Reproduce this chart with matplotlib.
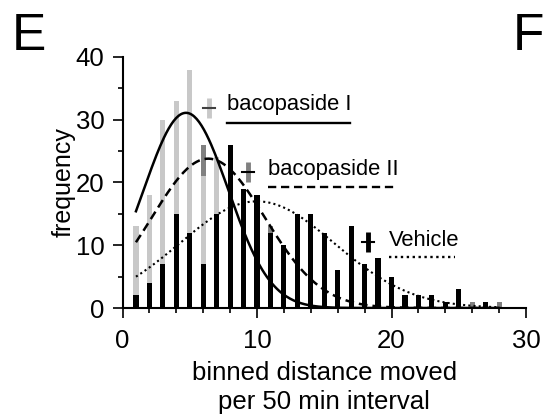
import matplotlib
matplotlib.use("Agg")
import numpy as np
import matplotlib.pyplot as plt
from matplotlib.ticker import MultipleLocator

plt.rcParams['font.family'] = ['Liberation Sans', 'DejaVu Sans']

# binned distance (bins 1..30)
bins = list(range(1, 31))

# frequencies (hidden parts estimated)
bacopaside_1 = [13, 18, 30, 33, 38, 21, 24, 14, 10, 6, 4, 2, 1, 1, 0,
                0, 0, 0, 0, 0, 0, 0, 0, 0, 0, 0, 0, 0, 0, 0]
bacopaside_2 = [8, 14, 18, 20, 20, 26, 22, 20, 17, 15, 13, 8, 6, 4, 3,
                2, 2, 1, 1, 1, 0, 0, 0, 0, 0, 1, 0, 1, 0, 0]
vehicle = [2, 4, 7, 15, 12, 7, 15, 26, 19, 18, 12, 10, 15, 15, 12,
           6, 13, 7, 8, 5, 2, 2, 2, 1, 3, 0, 1, 0, 0, 0]

# gaussian fits (peak height, centre, width)
fit_1 = (31.1, 4.72, 3.14)
fit_2 = (23.8, 6.38, 4.2)
fit_v = (17.0, 10.0, 5.75)

light = '#c8c8c8'
dark = '#808080'
dash = (0, (3.5, 2))
dot = (0, (1, 1.5))

fig = plt.figure(figsize=(5.43, 4.15), dpi=100)
ax = fig.add_axes([0.2256, 0.2578, 0.7431, 0.6049])

w = 0.38
ax.bar(bins, bacopaside_2, width=w, color=dark, zorder=1)
ax.bar(bins, bacopaside_1, width=w, color=light, zorder=2)
ax.bar(bins, vehicle, width=w, color='black', zorder=3)

xs = np.linspace(1, 28, 300)
for (a, m, s), ls, lw in [(fit_1, '-', 1.8), (fit_2, dash, 1.8), (fit_v, dot, 1.5)]:
    ax.plot(xs, a * np.exp(-(xs - m) ** 2 / (2 * s ** 2)), color='black',
            lw=lw, ls=ls, zorder=4)

# hand-made legend: "+" marker, label, line sample underneath
legend = [
    ('bacopaside I', light, '-', 6.43, 31.9, 7.77, 32.4, 29.5, 16.9),
    ('bacopaside II', dark, dash, 9.33, 21.7, 10.8, 22.1, 19.3, 20.4),
    ('Vehicle', 'black', dot, 18.25, 10.5, 19.8, 10.7, 8.1, 24.7),
]
for name, col, ls, mx, my, tx, ty, uy, ux2 in legend:
    ax.plot([mx, mx], [my - 1.6, my + 1.6], color=col, lw=3.5,
            solid_capstyle='butt', clip_on=False, zorder=5)
    ax.plot([mx - 0.45, mx + 0.45], [my, my], color='black' if col != light else '#404040',
            lw=1.5, clip_on=False, zorder=6)
    ax.text(tx, ty, name, fontsize=15.8, va='center', ha='left')
    ax.plot([tx, ux2], [uy, uy], color='black', lw=1.7, ls=ls, clip_on=False)

ax.set_xlim(0, 30)
ax.set_ylim(0, 40)
ax.xaxis.set_major_locator(MultipleLocator(10))
ax.xaxis.set_minor_locator(MultipleLocator(2))
ax.yaxis.set_major_locator(MultipleLocator(10))
ax.yaxis.set_minor_locator(MultipleLocator(5))
ax.tick_params(which='major', length=7, width=1.2, labelsize=18.5, pad=6)
ax.tick_params(which='minor', length=3.5, width=1.2)
ax.tick_params(axis='x', which='major', pad=8)
for side in ['top', 'right']:
    ax.spines[side].set_visible(False)
for side in ['left', 'bottom']:
    ax.spines[side].set_linewidth(1.5)

ax.set_xlabel('binned distance moved\nper 50 min interval', fontsize=18.5,
              linespacing=1.25, labelpad=6)
ax.set_ylabel('frequency', fontsize=18)
ax.yaxis.set_label_coords(-0.116, 0.5)

fig.text(0.022, 0.88, 'E', fontsize=37, va='baseline', ha='left')
fig.text(0.944, 0.88, 'F', fontsize=37, va='baseline', ha='left')

fig.savefig('out.png', dpi=100)
